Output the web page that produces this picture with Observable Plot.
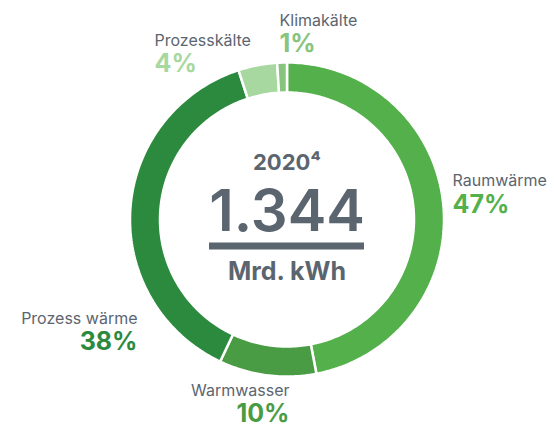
<!DOCTYPE html>
<html>
<head>
<meta charset="utf-8">
<script src="https://cdn.jsdelivr.net/npm/d3@7"></script>
<script src="https://cdn.jsdelivr.net/npm/@observablehq/plot@0.6"></script>
<style>
  html, body { margin: 0; padding: 0; background: #fff; }
  #chart { width: 554px; height: 426px; }
  svg { font-family: Inter, "Noto Sans", sans-serif; }
</style>
</head>
<body>
<div id="chart"></div>
<script>
// ---- data ----
const categories = ["Raumwärme", "Warmwasser", "Prozess wärme", "Prozesskälte", "Klimakälte"];
const shares = [47, 10, 38, 4, 1];
const shareLabels = ["47%", "10%", "38%", "4%", "1%"];
const centerYear = "2020⁴";
const centerValue = "1.344";
const centerUnit = "Mrd. kWh";

// ---- styles / layout ----
const colors = ["#53b04a", "#4a9c44", "#2c8a3e", "#a7d8a0", "#87c47e"];
const textGrey = "#5b6570";
const W = 554, H = 426;
const cx = 286.5, cy = 219;
const rOuter = 157, rInner = 127;
const labelLayout = [
  {x: 452, yLab: 185, yPct: 212, anchor: "start"},
  {x: 289, yLab: 395, yPct: 421, anchor: "end"},
  {x: 137, yLab: 323, yPct: 349, anchor: "end"},
  {x: 154, yLab: 45, yPct: 71, anchor: "start"},
  {x: 279, yLab: 25, yPct: 51, anchor: "start"}
];

// pie angles from data
const pie = d3.pie().sort(null).value(d => d)(shares);

function ringPoints(a0, a1) {
  const pts = [];
  const n = Math.max(4, Math.ceil((a1 - a0) / (Math.PI / 180)));
  for (let i = 0; i <= n; i++) {
    const a = a0 + (a1 - a0) * i / n;
    pts.push({x: cx + rOuter * Math.sin(a), y: cy - rOuter * Math.cos(a)});
  }
  for (let i = n; i >= 0; i--) {
    const a = a0 + (a1 - a0) * i / n;
    pts.push({x: cx + rInner * Math.sin(a), y: cy - rInner * Math.cos(a)});
  }
  return pts;
}

const segMarks = pie.map((p, i) =>
  Plot.line(ringPoints(p.startAngle, p.endAngle), {
    x: "x", y: "y", curve: "linear-closed",
    fill: colors[i], stroke: "white", strokeWidth: 2.5, strokeLinejoin: "miter"
  })
);

const labelData = categories.map((c, i) => ({
  name: c, pct: shareLabels[i], color: colors[i], ...labelLayout[i]
}));

const plot = Plot.plot({
  width: W, height: H,
  margin: 0,
  x: {domain: [0, W], range: [0, W], axis: null},
  y: {domain: [0, H], range: [0, H], axis: null},
  style: {background: "white", overflow: "visible"},
  marks: [
    ...segMarks,
    ...labelData.map(d => Plot.text([d], {
      x: "x", y: "yLab", text: "name", textAnchor: d.anchor, lineAnchor: "bottom",
      fontSize: 16, fill: textGrey
    })),
    ...labelData.map(d => Plot.text([d], {
      x: "x", y: "yPct", text: "pct", textAnchor: d.anchor, lineAnchor: "bottom",
      fontSize: 25, fontWeight: 700, fill: d.color
    })),
    Plot.text([centerYear], {x: () => cx, y: () => 169, text: d => d, lineAnchor: "bottom",
      fontSize: 22, fontWeight: 700, fill: textGrey}),
    Plot.text([centerValue], {x: () => cx, y: () => 230, text: d => d, lineAnchor: "bottom",
      fontSize: 58, fontWeight: 600, fill: textGrey}),
    Plot.ruleY([245.5], {x1: () => 209, x2: () => 364, stroke: textGrey, strokeWidth: 7}),
    Plot.text([centerUnit], {x: () => cx, y: () => 279, text: d => d, lineAnchor: "bottom",
      fontSize: 25, fontWeight: 700, fill: textGrey})
  ]
});
document.getElementById("chart").appendChild(plot);
</script>
</body>
</html>
